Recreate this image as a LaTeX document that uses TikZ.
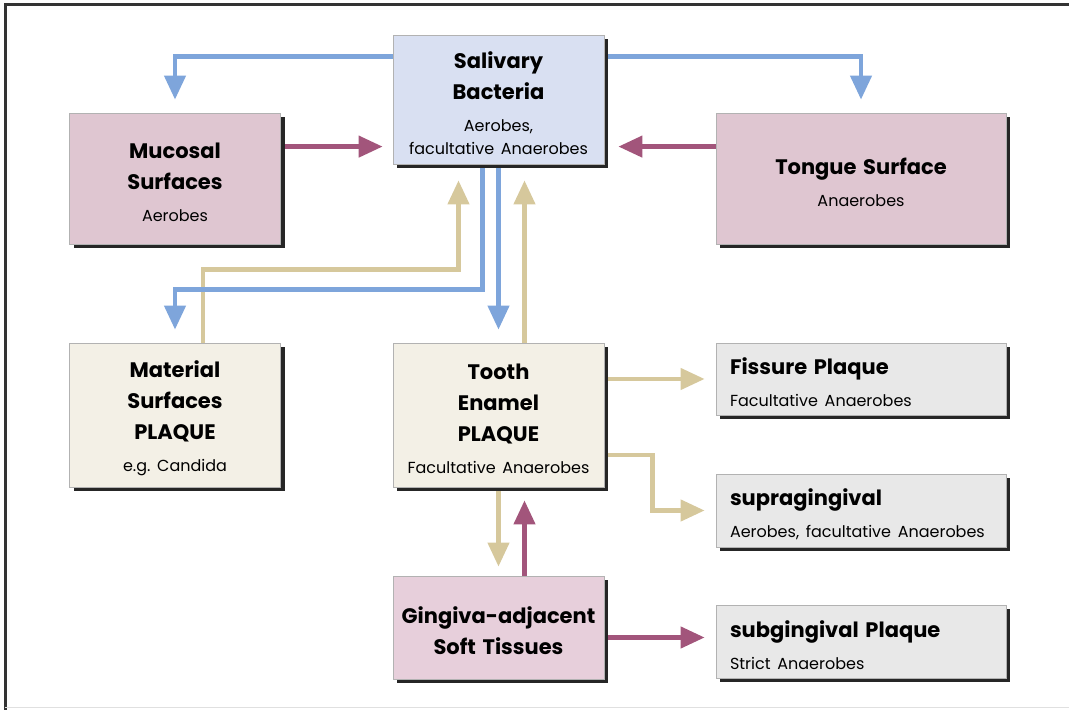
\documentclass[tikz,border=0pt]{standalone}
\usepackage{fontspec}
\setmainfont{Poppins}[WordSpace=0.6]
\usetikzlibrary{arrows.meta,shadows,backgrounds}
\frenchspacing

\definecolor{flowblue}{HTML}{7EA5DB}
\definecolor{flowmauve}{HTML}{A2557B}
\definecolor{flowtan}{HTML}{D6C89C}
\definecolor{salfill}{HTML}{D9E0F2}
\definecolor{mucfill}{HTML}{DFC6D1}
\definecolor{ginfill}{HTML}{E7CFDB}
\definecolor{plaqfill}{HTML}{F3F0E6}
\definecolor{greyfill}{HTML}{E8E8E8}

\newcommand{\boxhead}[1]{{\fontsize{10.5}{15.5}\selectfont\bfseries\rule{0pt}{12pt}#1\par}}
\newcommand{\boxnote}[1]{\vspace{4.5pt}{\fontsize{8}{11.5}\selectfont #1\par}}

\tikzset{
  site/.style={draw=black!30, line width=0.4pt, inner sep=0pt,
    drop shadow={shadow xshift=2pt,shadow yshift=-2pt,opacity=1,fill=black!85}},
  midsite/.style={site, align=center, text width=105.5pt, minimum width=105.5pt},
  sidesite/.style={site, align=left, inner xsep=7pt, text width=131pt,
    minimum width=145pt, fill=greyfill},
  flow/.style={line width=2.2pt, -{Triangle[width=10.5pt,length=12pt]}},
  blueflow/.style={flow, flowblue},
  mauveflow/.style={flow, flowmauve},
  tanflow/.style={flow, flowtan}
}

\begin{document}
\begin{tikzpicture}[x=0.5pt,y=0.5pt]
  \useasboundingbox (0,0) rectangle (1069,710);
  \draw[black!80, line width=1.5pt] (5,0) -- (5,705) -- (1069,705);
  \draw[black!12, line width=0.5pt] (5,2) -- (1069,2);

  % boxes
  \node[midsite, fill=salfill, minimum height=64.5pt] (sal) at (498.5,610.5)
    {\boxhead{Salivary\\Bacteria}\boxnote{Aerobes,\\facultative Anaerobes}};
  \node[midsite, fill=mucfill, minimum height=65.5pt] (muc) at (175,531.5)
    {\boxhead{Mucosal\\Surfaces}\boxnote{Aerobes}};
  \node[site, align=center, text width=145pt, minimum width=145pt,
    fill=mucfill, minimum height=65.5pt] (ton) at (861,531.5)
    {\boxhead{Tongue Surface}\boxnote{Anaerobes}};
  \node[midsite, fill=plaqfill, minimum height=72pt] (mat) at (175,295)
    {\boxhead{Material\\Surfaces\\PLAQUE}\boxnote{e.g. Candida}};
  \node[midsite, fill=plaqfill, minimum height=72pt] (too) at (498.5,295)
    {\boxhead{Tooth\\Enamel\\PLAQUE}\boxnote{Facultative Anaerobes}};
  \node[midsite, fill=ginfill, minimum height=51.5pt] (gin) at (498.5,82.5)
    {\boxhead{Gingiva-adjacent\\Soft Tissues}};
  \node[sidesite, minimum height=36pt] (fis) at (861,331)
    {\boxhead{Fissure Plaque}\boxnote{Facultative Anaerobes}};
  \node[sidesite, minimum height=36.5pt] (sup) at (861,199.5)
    {\boxhead{supragingival}\boxnote{Aerobes, facultative Anaerobes}};
  \node[sidesite, minimum height=36.5pt] (sub) at (861,68.5)
    {\boxhead{subgingival Plaque}\boxnote{Strict Anaerobes}};

  \coordinate (mucout) at ([yshift=-17pt]muc.north east);
  \coordinate (tonout) at ([yshift=-17pt]ton.north west);
  \coordinate (ginout) at ([yshift=-5pt]gin.east);

  % connectors
  \begin{scope}[on background layer]
    \draw[blueflow, shorten >=6.5pt] ([yshift=-11pt]sal.north west) -| (muc.north);
    \draw[blueflow, shorten >=6.5pt] ([yshift=-11pt]sal.north east) -| (ton.north);
    \draw[mauveflow, shorten >=5pt] (mucout) -- (mucout -| sal.west);
    \draw[mauveflow, shorten >=7pt] (tonout) -- (tonout -| sal.east);
    \draw[tanflow, shorten >=8pt] ([xshift=14pt]mat.north) -- ++(0,73) -| ([xshift=-20pt]sal.south);
    \draw[blueflow, shorten >=6.5pt] ([xshift=-8pt]sal.south) |- ([yshift=26.5pt]mat.north) -- (mat.north);
    \draw[blueflow, shorten >=6.5pt] (sal.south) -- (too.north);
    \draw[tanflow, shorten >=8pt] ([xshift=13pt]too.north) -- ([xshift=13pt]sal.south);
    \draw[tanflow, shorten >=5.5pt] (too.east |- fis.west) -- (fis.west);
    \draw[tanflow, shorten >=5.5pt] ([yshift=-20pt]too.east) -- ++(48,0) |- (sup.west);
    \draw[tanflow, shorten >=4.5pt] (too.south) -- (gin.north);
    \draw[mauveflow, shorten >=6.5pt] ([xshift=13pt]gin.north) -- ([xshift=13pt]too.south);
    \draw[mauveflow, shorten >=5.5pt] (ginout) -- (ginout -| sub.west);
  \end{scope}
\end{tikzpicture}
\end{document}
